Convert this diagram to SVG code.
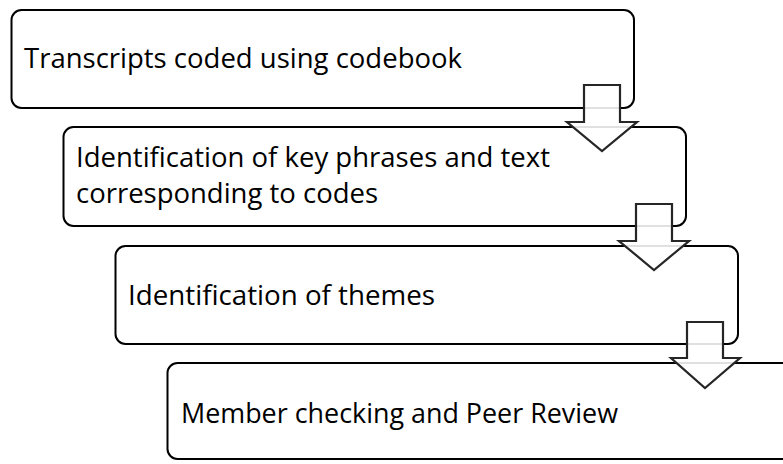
<svg xmlns="http://www.w3.org/2000/svg" width="783" height="464" viewBox="0 0 783 464">
<style>
.box{fill:#fff;stroke:#000;stroke-width:2}
.arr{fill:#fff;fill-opacity:0.88;stroke:#262626;stroke-width:2.2;stroke-linejoin:miter}
text{font-family:"Open Sans","Noto Sans","Liberation Sans",sans-serif;font-size:28px;fill:#000}
</style>
<rect width="783" height="464" fill="#fff"/>
<g id="node1"><rect class="box" x="11.5" y="10" width="622.5" height="98" rx="10"/>
<text x="24" y="68" textLength="438" lengthAdjust="spacingAndGlyphs">Transcripts coded using codebook</text></g>
<g id="node2"><rect class="box" x="63.5" y="127" width="622.5" height="99" rx="10"/>
<text x="76" y="167" textLength="474" lengthAdjust="spacingAndGlyphs">Identification of key phrases and text</text>
<text x="76" y="203" textLength="302" lengthAdjust="spacingAndGlyphs">corresponding to codes</text></g>
<g id="node3"><rect class="box" x="115.5" y="246" width="622.5" height="98" rx="10"/>
<text x="128" y="305" textLength="307" lengthAdjust="spacingAndGlyphs">Identification of themes</text></g>
<g id="node4"><rect class="box" x="167.5" y="363" width="640" height="96" rx="10"/>
<text x="181" y="423" textLength="437" lengthAdjust="spacingAndGlyphs">Member checking and Peer Review</text></g>
<g id="connectors">
<path class="arr" d="M584,85 H620 V122 H637 L602,151 L567,122 H584 Z"/>
<path class="arr" d="M636,204 H672 V241 H689 L654,270 L619,241 H636 Z"/>
<path class="arr" d="M687,322 H723 V358 H740 L705,388 L671,358 H687 Z"/>
</g>
</svg>
